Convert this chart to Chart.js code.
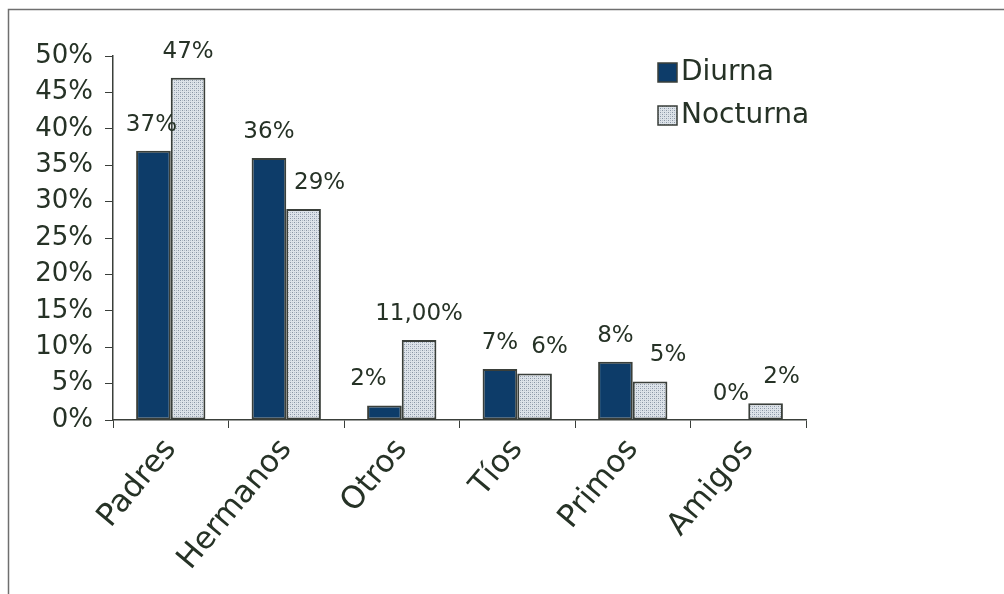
<!DOCTYPE html>
<html>
<head>
<meta charset="utf-8">
<script src="https://cdn.jsdelivr.net/npm/chart.js@4"></script>
<style>
body { margin: 0; background: #fff; }
</style>
</head>
<body>
<canvas id="chart" width="1004" height="594"></canvas>
<script>
const categories = ['Padres', 'Hermanos', 'Otros', 'Tíos', 'Primos', 'Amigos'];
const diurna = [37, 36, 2, 7, 8, 0];
const nocturna = [47, 29, 11, 6.4, 5.3, 2.3];
const diurnaLabels = ['37%', '36%', '2%', '7%', '8%', '0%'];
const nocturnaLabels = ['47%', '29%', '11,00%', '6%', '5%', '2%'];
const seriesNames = ['Diurna', 'Nocturna'];

const textColor = '#263226';
const lineColor = '#3a3f3a';
const font = 'DejaVu Sans';

// small horizontal nudges of the value labels, like the hand-moved ones in the original
const labelNudge = [[-2, 0, -16, 0, 0, 0], [0, 16, 0, 15, 18, 16]];

const canvas = document.getElementById('chart');
const ctx = canvas.getContext('2d');

function dotPattern() {
    const c = document.createElement('canvas');
    c.width = 4; c.height = 4;
    const g = c.getContext('2d');
    g.fillStyle = '#dde3e9';
    g.fillRect(0, 0, 4, 4);
    g.fillStyle = '#8995a4';
    g.fillRect(0, 0, 1, 1);
    g.fillRect(2, 2, 1, 1);
    g.fillStyle = '#b5bfca';
    g.fillRect(2, 0, 1, 1);
    g.fillRect(0, 2, 1, 1);
    return ctx.createPattern(c, 'repeat');
}

const nocturnaFill = dotPattern();
const diurnaFill = '#0d3c69';

const decor = {
    id: 'decor',
    beforeDraw(chart) {
        const c = chart.ctx;
        c.save();
        c.fillStyle = '#fff';
        c.fillRect(0, 0, chart.width, chart.height);
        c.strokeStyle = '#6f6f6f';
        c.lineWidth = 1.5;
        c.beginPath();
        c.moveTo(1004, 9.5);
        c.lineTo(8.5, 9.5);
        c.lineTo(8.5, 594);
        c.stroke();
        c.restore();
    },
    afterDatasetsDraw(chart) {
        const c = chart.ctx;
        const texts = [diurnaLabels, nocturnaLabels];
        c.save();
        c.font = '23px "' + font + '"';
        c.fillStyle = textColor;
        c.textAlign = 'center';
        c.textBaseline = 'middle';
        chart.data.datasets.forEach((ds, i) => {
            chart.getDatasetMeta(i).data.forEach((bar, j) => {
                c.fillText(texts[i][j], bar.x + labelNudge[i][j], bar.y - 26);
            });
        });

        // legend, floating in the upper right of the plot
        c.font = '28px "' + font + '"';
        c.textAlign = 'left';
        chart.data.datasets.forEach((ds, i) => {
            const y = 63 + i * 43;
            c.fillStyle = ds.backgroundColor;
            c.fillRect(658, y, 19, 19);
            c.strokeStyle = lineColor;
            c.lineWidth = 1.5;
            c.strokeRect(658, y, 19, 19);
            c.fillStyle = textColor;
            c.fillText(ds.label, 681, y + 10);
        });
        c.restore();
    }
};

new Chart(ctx, {
    type: 'bar',
    data: {
        labels: categories,
        datasets: [{
            label: seriesNames[0],
            data: diurna,
            backgroundColor: diurnaFill,
            borderColor: lineColor,
            borderWidth: 2,
            borderSkipped: false,
            barPercentage: 1,
            categoryPercentage: 0.6
        }, {
            label: seriesNames[1],
            data: nocturna,
            backgroundColor: nocturnaFill,
            borderColor: lineColor,
            borderWidth: 2,
            borderSkipped: false,
            barPercentage: 1,
            categoryPercentage: 0.6
        }]
    },
    options: {
        responsive: false,
        animation: false,
        layout: { padding: { top: 56, right: 198, left: 0, bottom: 0 } },
        plugins: {
            legend: { display: false },
            tooltip: { enabled: false }
        },
        scales: {
            x: {
                grid: { drawOnChartArea: false, drawTicks: true, tickLength: 8, color: lineColor, offset: true },
                border: { color: lineColor, width: 1.5 },
                ticks: {
                    color: textColor,
                    font: { family: font, size: 31 },
                    maxRotation: 50,
                    minRotation: 50,
                    padding: 4
                },
                afterFit(s) { s.height = 174; }
            },
            y: {
                min: 0,
                max: 50,
                grid: { drawOnChartArea: false, drawTicks: true, tickLength: 8, color: lineColor },
                border: { color: lineColor, width: 1.5 },
                ticks: {
                    stepSize: 5,
                    callback: v => v + '%',
                    color: textColor,
                    font: { family: font, size: 26 },
                    padding: 12
                },
                afterFit(s) { s.width = 113; }
            }
        }
    },
    plugins: [decor]
});
</script>
</body>
</html>
